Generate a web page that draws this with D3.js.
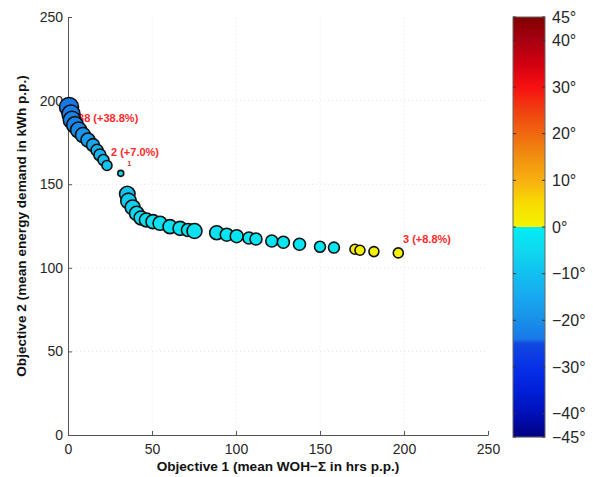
<!DOCTYPE html>
<html>
<head>
<meta charset="utf-8">
<script src="https://cdn.jsdelivr.net/npm/d3@7/dist/d3.min.js"></script>
<style>
  html, body { margin: 0; padding: 0; background: #fff; }
  svg { display: block; font-family: "Liberation Sans", Arial, Helvetica, sans-serif; }
</style>
</head>
<body>
<svg id="chart" width="593" height="477"></svg>
<script>
// ---------------- DATA ----------------
const xVals = [0.6, 1.8, 2.4, 4.2, 6.3, 8.9, 11.9, 14.9, 17.3, 19.0, 21.1, 23.2,
  31.4,
  35.3, 36.0, 38.5, 40.9, 43.5, 46.7, 50.6, 54.8, 60.7, 66.7, 71.4, 75.3,
  88.5, 94.5, 100.4, 107.7, 111.9, 121.3, 128.2, 137.8, 150.0, 158.3,
  170.8, 173.8, 182.1, 196.6];
const yVals = [196.2, 192.0, 188.4, 185.4, 182.4, 179.4, 176.4, 173.4, 170.3, 167.5, 164.5, 161.2,
  156.5,
  144.1, 140.0, 136.1, 132.5, 129.8, 128.6, 127.6, 126.6, 124.6, 123.6, 122.6, 122.0,
  121.0, 119.8, 118.9, 117.8, 117.2, 116.0, 115.3, 114.1, 112.6, 112.1,
  111.1, 110.5, 109.7, 108.9];
// colour variable (degrees)
const temps = [-24, -23, -22, -22, -21, -19, -17, -15, -13, -12, -10, -9,
  -5,
  -9, -8, -7, -5, -4, -4, -3, -3, -3, -3, -3, -3,
  -3, -2, -2, -2, -2, -2, -2, -2, -2, -2,
  1, 1, 1, 1];
// marker size variable
const sizes = [90, 81, 76, 70, 64, 56, 49, 42, 36, 36, 30, 25,
  9,
  60, 60, 56, 52, 49, 49, 49, 49, 49, 49, 42, 56,
  49, 42, 42, 36, 36, 36, 36, 36, 30, 30,
  25, 25, 25, 25];

const xTicks = [0, 50, 100, 150, 200, 250];
const yTicks = [0, 50, 100, 150, 200, 250];
const cbTicks = [45, 40, 30, 20, 10, 0, -10, -20, -30, -40, -45];

const annotations = [
  { text: "38 (+38.8%)", x: 6.0, y: 187.2, size: 11 },
  { text: "2 (+7.0%)", x: 25.6, y: 166.9, size: 11 },
  { text: "1", x: 35.3, y: 160.9, size: 7 },
  { text: "3 (+8.8%)", x: 199.4, y: 114.8, size: 11 }
];

const xTitle = "Objective 1 (mean WOH\u2212\u03A3 in hrs p.p.)";
const yTitle = "Objective 2 (mean energy demand in kWh p.p.)";

// colormap stops
const lowerStops = [-45, -40, -35, -30, -25, -24, -20, -15, -10, -5, 0];
const lowerColors = ["#000080", "#0010b8", "#0020d8", "#0830e8", "#1048e0", "#1878e8", "#1890e8", "#18a8f0", "#10c0f0", "#10d8f0", "#00eef2"];
const upperStops = [0, 5, 10, 15, 20, 25, 30, 35, 40, 45];
const upperColors = ["#f4f400", "#f8dc00", "#f8b010", "#f09010", "#f06810", "#f04010", "#f81010", "#d00010", "#a80010", "#800000"];

// ---------------- CHART ----------------
const svg = d3.select("#chart");
const plot = { left: 68, right: 488, top: 17, bottom: 435 };

const x = d3.scaleLinear().domain([0, 250]).range([plot.left, plot.right]);
const y = d3.scaleLinear().domain([0, 250]).range([plot.bottom, plot.top]);
const r = d3.scaleSqrt().domain([0, 100]).range([0, 10]);

const lowerScale = d3.scaleLinear().domain(lowerStops).range(lowerColors).clamp(true);
const upperScale = d3.scaleLinear().domain(upperStops).range(upperColors).clamp(true);
const cmap = v => (v >= 0 ? upperScale(v) : lowerScale(v));

const tickColor = "#262626";
const fontSize = 14;

// faint grid
const grid = svg.append("g").attr("stroke", "#e4e4e4").attr("stroke-dasharray", "1,3").attr("stroke-width", 1);
xTicks.slice(1, -1).forEach(t => grid.append("line").attr("x1", x(t)).attr("x2", x(t)).attr("y1", y(0)).attr("y2", y(250)));
yTicks.slice(1, -1).forEach(t => grid.append("line").attr("y1", y(t)).attr("y2", y(t)).attr("x1", x(0)).attr("x2", x(250)));

// axes (MATLAB-like: inward ticks)
const xAxis = svg.append("g").attr("transform", `translate(0,${plot.bottom})`)
  .call(d3.axisBottom(x).tickValues(xTicks).tickSizeInner(-4).tickSizeOuter(0).tickPadding(7));
const yAxis = svg.append("g").attr("transform", `translate(${plot.left},0)`)
  .call(d3.axisLeft(y).tickValues(yTicks).tickSizeInner(-4).tickSizeOuter(0).tickPadding(5));
[xAxis, yAxis].forEach(a => {
  a.select(".domain").attr("stroke", "#555").attr("stroke-width", 1);
  a.selectAll(".tick line").attr("stroke", "#555");
  a.selectAll(".tick text").attr("fill", tickColor).style("font-size", fontSize + "px")
    .style("font-family", "'Liberation Sans', Arial, sans-serif");
});
xAxis.selectAll(".tick text").attr("dy", "0.85em");

// axis titles
svg.append("text")
  .attr("x", (plot.left + plot.right) / 2).attr("y", 471)
  .attr("text-anchor", "middle").attr("font-weight", "bold").attr("font-size", 13.6)
  .attr("fill", "#111").text(xTitle);
svg.append("text")
  .attr("transform", `translate(26,${(plot.top + plot.bottom) / 2}) rotate(-90)`)
  .attr("text-anchor", "middle").attr("font-weight", "bold").attr("font-size", 13.6)
  .attr("fill", "#111").text(yTitle);

// annotations (drawn under markers)
svg.append("g").selectAll("text").data(annotations).join("text")
  .attr("x", d => x(d.x)).attr("y", d => y(d.y))
  .attr("font-size", d => d.size).attr("font-weight", "bold")
  .attr("fill", d => d.size < 10 ? "#c03030" : "#ff2a2a")
  .text(d => d.text);

// markers
const pts = xVals.map((v, i) => ({ x: v, y: yVals[i], t: temps[i], s: sizes[i] }));
svg.append("g").selectAll("circle").data(pts).join("circle")
  .attr("cx", d => x(d.x)).attr("cy", d => y(d.y)).attr("r", d => r(d.s))
  .attr("fill", d => cmap(d.t)).attr("stroke", "#111").attr("stroke-width", 1.6);

// ---------------- COLORBAR ----------------
const cb = { left: 513, right: 545, top: 17, bottom: 437 };
const cbY = d3.scaleLinear().domain([-45, 45]).range([cb.bottom, cb.top]);
const rows = d3.range(cb.top, cb.bottom, 1);
svg.append("g").selectAll("rect").data(rows).join("rect")
  .attr("x", cb.left).attr("width", cb.right - cb.left)
  .attr("y", d => d).attr("height", 1.2)
  .attr("fill", d => cmap(cbY.invert(d + 0.5)));
svg.append("rect").attr("x", cb.left).attr("y", cb.top)
  .attr("width", cb.right - cb.left).attr("height", cb.bottom - cb.top)
  .attr("fill", "none").attr("stroke", "#666").attr("stroke-width", 1);
const cbTickG = svg.append("g");
cbTicks.forEach(t => {
  cbTickG.append("line").attr("x1", cb.left).attr("x2", cb.left + 3).attr("y1", cbY(t)).attr("y2", cbY(t)).attr("stroke", "#333");
  cbTickG.append("line").attr("x1", cb.right - 3).attr("x2", cb.right).attr("y1", cbY(t)).attr("y2", cbY(t)).attr("stroke", "#333");
  cbTickG.append("text").attr("x", 552).attr("y", cbY(t) + 5.5)
    .attr("font-size", 16).attr("fill", tickColor)
    .text((t < 0 ? "\u2212" + Math.abs(t) : t) + "\u00B0");
});
</script>
</body>
</html>
